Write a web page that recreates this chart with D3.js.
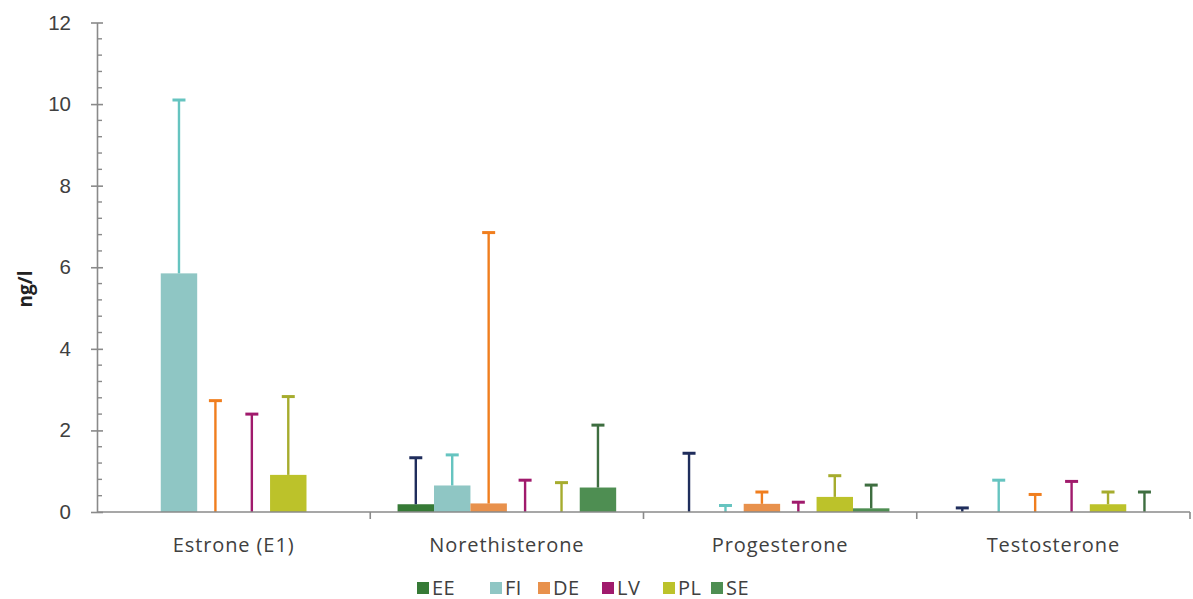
<!DOCTYPE html>
<html>
<head>
<meta charset="utf-8">
<script src="https://cdn.jsdelivr.net/npm/d3@7"></script>
<style>
  html, body { margin: 0; padding: 0; background: #ffffff; }
  svg { display: block; font-family: "Open Sans", "Liberation Sans", sans-serif; }
</style>
</head>
<body>
<svg id="chart" width="1193" height="599"></svg>
<script>
// Hormone concentrations (ng/l) by country, with upper error limits
const categories = ["Estrone (E1)", "Norethisterone", "Progesterone", "Testosterone"];
const seriesNames = ["EE", "FI", "DE", "LV", "PL", "SE"];

const meanEE = [0, 0.19, 0, 0];
const meanFI = [5.85, 0.65, 0, 0];
const meanDE = [0, 0.21, 0.20, 0];
const meanLV = [0, 0, 0, 0];
const meanPL = [0.91, 0, 0.37, 0.19];
const meanSE = [0, 0.60, 0.09, 0];

const upperEE = [null, 1.33, 1.44, 0.10];
const upperFI = [10.1, 1.40, 0.16, 0.78];
const upperDE = [2.73, 6.85, 0.49, 0.43];
const upperLV = [2.40, 0.78, 0.24, 0.75];
const upperPL = [2.83, 0.72, 0.89, 0.49];
const upperSE = [null, 2.13, 0.66, 0.49];

const yTicks = [0, 2, 4, 6, 8, 10, 12];

const barColors = ["#367a36", "#8fc6c4", "#e8914c", "#a01a6c", "#bcc22a", "#4e8e52"];
const errColors = ["#1f2d5c", "#66c4c0", "#f07e1e", "#a01a6c", "#a6ac2e", "#3e6e40"];

const means = [meanEE, meanFI, meanDE, meanLV, meanPL, meanSE];
const uppers = [upperEE, upperFI, upperDE, upperLV, upperPL, upperSE];

const rows = [];
categories.forEach((c, ci) => {
  seriesNames.forEach((s, si) => {
    rows.push({ cat: c, series: s, si, mean: means[si][ci], upper: uppers[si][ci] });
  });
});

const svg = d3.select("#chart");
const plotLeft = 97, plotRight = 1190, plotTop = 22.5, plotBottom = 512;

const x = d3.scaleBand().domain(categories).range([plotLeft, plotRight]).padding(0);
const xi = d3.scaleBand().domain(seriesNames).range([0, x.bandwidth()])
  .paddingInner(0).paddingOuter(0.75);
const y = d3.scaleLinear().domain([0, 12]).range([plotBottom, plotTop]);

const axisColor = "#8a8a8a";
const textColor = "#404040";

// Bars
svg.append("g").selectAll("rect").data(rows.filter(d => d.mean > 0)).join("rect")
  .attr("x", d => x(d.cat) + xi(d.series))
  .attr("width", xi.bandwidth())
  .attr("y", d => y(d.mean))
  .attr("height", d => y(0) - y(d.mean))
  .attr("fill", d => barColors[d.si]);

// Error bars
const eb = svg.append("g").selectAll("g").data(rows.filter(d => d.upper != null)).join("g")
  .attr("stroke", d => errColors[d.si])
  .attr("stroke-width", 2.4);
eb.append("line")
  .attr("x1", d => x(d.cat) + xi(d.series) + xi.bandwidth() / 2)
  .attr("x2", d => x(d.cat) + xi(d.series) + xi.bandwidth() / 2)
  .attr("y1", d => y(d.mean))
  .attr("y2", d => y(d.upper));
eb.append("line")
  .attr("x1", d => x(d.cat) + xi(d.series) + xi.bandwidth() / 2 - 6.5)
  .attr("x2", d => x(d.cat) + xi(d.series) + xi.bandwidth() / 2 + 6.5)
  .attr("y1", d => y(d.upper))
  .attr("y2", d => y(d.upper))
  .attr("stroke-width", 3);

// Y axis: major ticks cross the line, minor ticks point inward
const yAxisG = svg.append("g").attr("transform", `translate(${plotLeft},0)`);
yAxisG.call(d3.axisLeft(y).tickValues(yTicks).tickSize(6).tickSizeOuter(0).tickPadding(20));
yAxisG.select(".domain").attr("stroke", axisColor).attr("stroke-width", 1.6);
yAxisG.selectAll(".tick line").attr("stroke", axisColor).attr("stroke-width", 1.6)
  .attr("x1", 6).attr("x2", -6);
yAxisG.selectAll(".tick text").attr("fill", textColor).attr("font-size", 20.5);
const minor = d3.range(0, 12.001, 0.4).filter(v => Math.abs(v % 2) > 0.01 && Math.abs(v % 2 - 2) > 0.01);
yAxisG.append("g").selectAll("line").data(minor).join("line")
  .attr("x1", 0).attr("x2", 5)
  .attr("y1", d => y(d)).attr("y2", d => y(d))
  .attr("stroke", axisColor).attr("stroke-width", 1.4);

// X axis with boundary ticks between categories
const xAxisG = svg.append("g").attr("transform", `translate(0,${plotBottom})`);
xAxisG.append("line").attr("x1", plotLeft).attr("x2", plotRight).attr("stroke", axisColor).attr("stroke-width", 1.6);
xAxisG.selectAll("line.sep").data(categories).join("line").attr("class", "sep")
  .attr("x1", d => x(d) + x.bandwidth()).attr("x2", d => x(d) + x.bandwidth())
  .attr("y1", 0).attr("y2", 7)
  .attr("stroke", axisColor).attr("stroke-width", 1.6);
xAxisG.selectAll("text").data(categories).join("text")
  .attr("x", d => x(d) + x.bandwidth() / 2)
  .attr("y", 39.5)
  .attr("text-anchor", "middle")
  .attr("fill", textColor)
  .attr("font-size", 20)
  .attr("letter-spacing", 0.9)
  .text(d => d);

// Y axis title
svg.append("text")
  .attr("transform", "translate(32,289) rotate(-90)")
  .attr("text-anchor", "middle")
  .attr("font-weight", "bold")
  .attr("font-size", 19)
  .attr("fill", "#222")
  .text("ng/l");

// Legend
const legendX = [417, 490, 538, 602, 663, 711];
const lg = svg.append("g").selectAll("g").data(seriesNames).join("g")
  .attr("transform", (d, i) => `translate(${legendX[i]},582)`);
lg.append("rect").attr("width", 12).attr("height", 12).attr("fill", (d, i) => barColors[i]);
lg.append("text").attr("x", 15).attr("y", 12.5).attr("font-size", 20).attr("letter-spacing", 0.5)
  .attr("fill", textColor).text(d => d);
</script>
</body>
</html>
